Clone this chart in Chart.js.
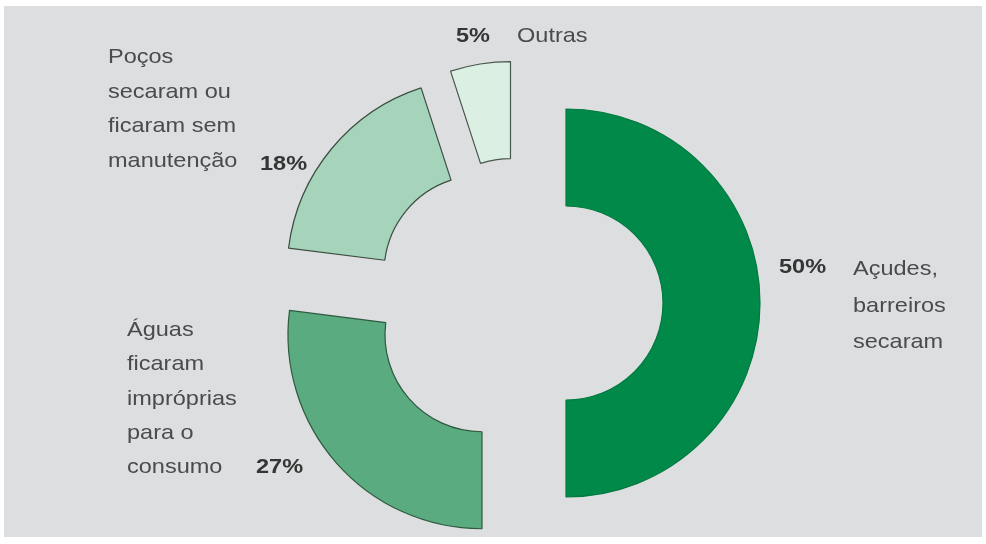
<!DOCTYPE html>
<html>
<head>
<meta charset="utf-8">
<script src="https://cdn.jsdelivr.net/npm/chart.js@4"></script>
<style>
  html, body { margin: 0; padding: 0; background: #ffffff; }
  #wrap { width: 986px; height: 544px; position: relative; }
</style>
</head>
<body>
<div id="wrap"><canvas id="c" width="986" height="544"></canvas></div>
<script>
// Causes reported for the lack of water
const categories = [
  'Açudes, barreiros secaram',
  'Águas ficaram impróprias para o consumo',
  'Poços secaram ou ficaram sem manutenção',
  'Outras'
];
const categoryLines = [
  ['Açudes,', 'barreiros', 'secaram'],
  ['Águas', 'ficaram', 'impróprias', 'para o', 'consumo'],
  ['Poços', 'secaram ou', 'ficaram sem', 'manutenção'],
  ['Outras']
];
const values = [50, 27, 18, 5];

const fills   = ['#008948', '#5aab7f', '#a6d4ba', '#dcefe3'];
const borders = ['#007a3f', '#2f5a40', '#3b4d42', '#4a5650'];

// Where each caption block sits: name block (left x, first baseline, line step) and percentage
const captionLayout = [
  { nx: 853, ny: 275, step: 36.5, px: 779, py: 273 },
  { nx: 127, ny: 336, step: 34.3, px: 256, py: 473 },
  { nx: 108, ny: 63,  step: 34.7, px: 260, py: 170 },
  { nx: 517, ny: 42,  step: 0,    px: 456, py: 42 }
];

const EXPLODE = 48;      // distance each slice is pulled out from the centre
const TEXT_STRETCH = 1.12;

// Pull each arc out along its mid angle without changing its radii
const explodePlugin = {
  id: 'explode',
  afterDatasetUpdate(chart, args) {
    const meta = chart.getDatasetMeta(args.index);
    meta.data.forEach(arc => {
      if (arc._exploded) return;
      const baseDraw = arc.draw;
      arc.draw = function (ctx) {
        const mid = (this.startAngle + this.endAngle) / 2;
        ctx.save();
        ctx.translate(Math.cos(mid) * EXPLODE, Math.sin(mid) * EXPLODE);
        baseDraw.call(this, ctx);
        ctx.restore();
      };
      arc._exploded = true;
    });
  }
};

const backdropPlugin = {
  id: 'backdrop',
  beforeDraw(chart) {
    const ctx = chart.ctx;
    ctx.save();
    ctx.fillStyle = '#ffffff';
    ctx.fillRect(0, 0, chart.width, chart.height);
    ctx.fillStyle = '#dcdedf';
    ctx.fillRect(4, 6, 978, 531);
    ctx.restore();
  }
};

function stretchedText(ctx, text, x, y) {
  ctx.save();
  ctx.translate(x, y);
  ctx.scale(TEXT_STRETCH, 1);
  ctx.fillText(text, 0, 0);
  ctx.restore();
}

const captionPlugin = {
  id: 'captions',
  afterDraw(chart) {
    const ctx = chart.ctx;
    ctx.save();
    ctx.textAlign = 'left';
    ctx.textBaseline = 'alphabetic';
    values.forEach((v, i) => {
      const L = captionLayout[i];
      ctx.font = '21px "Liberation Sans", Arial, sans-serif';
      ctx.fillStyle = '#4a4c4c';
      categoryLines[i].forEach((line, k) => {
        stretchedText(ctx, line, L.nx, L.ny + k * L.step);
      });
      ctx.font = 'bold 21px "Liberation Sans", Arial, sans-serif';
      ctx.fillStyle = '#343636';
      stretchedText(ctx, v + '%', L.px, L.py);
    });
    ctx.restore();
  }
};

new Chart(document.getElementById('c'), {
  type: 'doughnut',
  data: {
    labels: categories,
    datasets: [{
      data: values,
      backgroundColor: fills,
      borderColor: borders,
      borderWidth: 1.2,
      offset: 0
    }]
  },
  options: {
    responsive: false,
    animation: false,
    radius: 194,
    cutout: '50%',
    layout: { padding: { left: 218, right: 168, top: 103, bottom: 41 } },
    plugins: {
      legend: { display: false },
      tooltip: { enabled: false }
    }
  },
  plugins: [backdropPlugin, explodePlugin, captionPlugin]
});
</script>
</body>
</html>
